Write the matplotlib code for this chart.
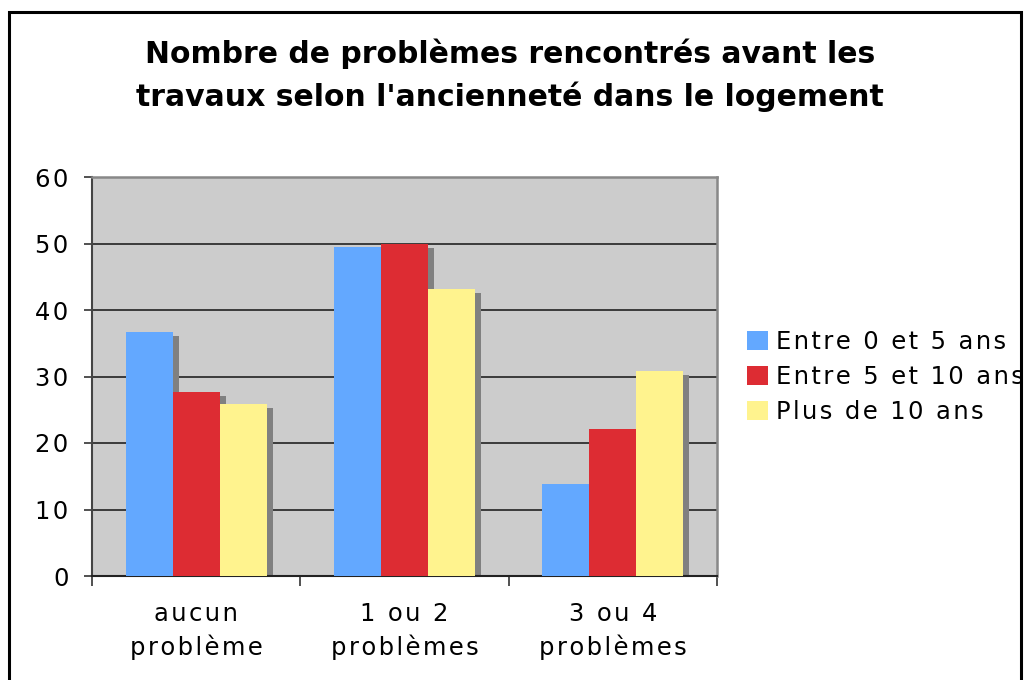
import numpy as np
import matplotlib
matplotlib.use('Agg')
import matplotlib.pyplot as plt
from matplotlib.patches import Rectangle, Patch

categories = ['aucun\nproblème', '1 ou 2\nproblèmes', '3 ou 4\nproblèmes']
series_names = ['Entre 0 et 5 ans', 'Entre 5 et 10 ans', 'Plus de 10 ans']
entre_0_5 = [36.7, 49.4, 13.9]
entre_5_10 = [27.7, 50.0, 22.1]
plus_10 = [25.8, 43.1, 30.9]
yticks = [0, 10, 20, 30, 40, 50, 60]

colors = ['#63a8ff', '#dd2c33', '#fff38e']
shadow = '#808080'
W, H = 1026, 680

def spaced(s):
    # the original text is drawn wide, so put hair spaces between letters
    return '\n'.join('\u200a'.join(line) for line in s.split('\n'))

plt.rcParams['font.family'] = 'DejaVu Sans'
fig = plt.figure(figsize=(W / 100, H / 100), dpi=100)
ax = fig.add_axes([92 / W, 1 - 576 / H, 625 / W, 399 / H])
ax.set_facecolor('#cccccc')

series = [entre_0_5, entre_5_10, plus_10]
x = np.arange(len(categories))
bw = 0.226
dx = 6 / 208.0
dy = 4 / 6.64

for k, vals in enumerate(series):
    pos = x + (k - 1) * bw
    ax.bar(pos + dx, np.array(vals) - dy, width=bw, color=shadow, zorder=2, linewidth=0)
for k, vals in enumerate(series):
    pos = x + (k - 1) * bw
    ax.bar(pos, vals, width=bw, color=colors[k], zorder=3, linewidth=0)

ax.set_xlim(-0.5, 2.5)
ax.set_ylim(0, 60)
ax.set_yticks(yticks)
ax.set_yticklabels([spaced(str(v)) for v in yticks], fontsize=17.5)
ax.tick_params(axis='y', direction='out', length=6, width=1.2, pad=11, color='#333333')
ax.set_xticks(x)
ax.set_xticklabels([spaced(c) for c in categories], fontsize=17.5, linespacing=1.42)
ax.tick_params(axis='x', which='major', length=0, pad=19)
ax.set_xticks([-0.5, 0.5, 1.5, 2.5], minor=True)
ax.tick_params(axis='x', which='minor', direction='out', length=7, width=1.2, color='#333333')

for v in yticks[1:-1]:
    ax.axhline(v, color='#222222', lw=1.2, zorder=1)

ax.spines['top'].set_color('#888888')
ax.spines['right'].set_color('#888888')
ax.spines['top'].set_linewidth(1.8)
ax.spines['right'].set_linewidth(1.8)
ax.spines['left'].set_color('#444444')
ax.spines['left'].set_linewidth(1.5)
ax.spines['bottom'].set_color('#222222')
ax.spines['bottom'].set_linewidth(1.5)

fig.text(510 / W, 1 - 75 / H,
         "Nombre de problèmes rencontrés avant les\ntravaux selon l'ancienneté dans le logement",
         ha='center', va='center', fontsize=21.5, fontweight='bold', linespacing=1.5)

handles = [Patch(facecolor=c, edgecolor='none') for c in colors]
fig.legend(handles, [spaced(s) for s in series_names], loc='center left',
           bbox_to_anchor=(747 / W, 1 - 377 / H), frameon=False, fontsize=17.5,
           handlelength=0.85, handleheight=0.85, handletextpad=0.35, labelspacing=0.45,
           borderaxespad=0, borderpad=0)

fig.patches.append(Rectangle((9 / W, -0.05), 1012 / W, 1.05 - 12 / H, transform=fig.transFigure,
                             fill=False, edgecolor='black', linewidth=2.2, zorder=10))
fig.patches.append(Rectangle((1022 / W, 0), 4 / W, 1, transform=fig.transFigure,
                             facecolor='white', edgecolor='none', zorder=9))

fig.savefig('out.png', dpi=100)
